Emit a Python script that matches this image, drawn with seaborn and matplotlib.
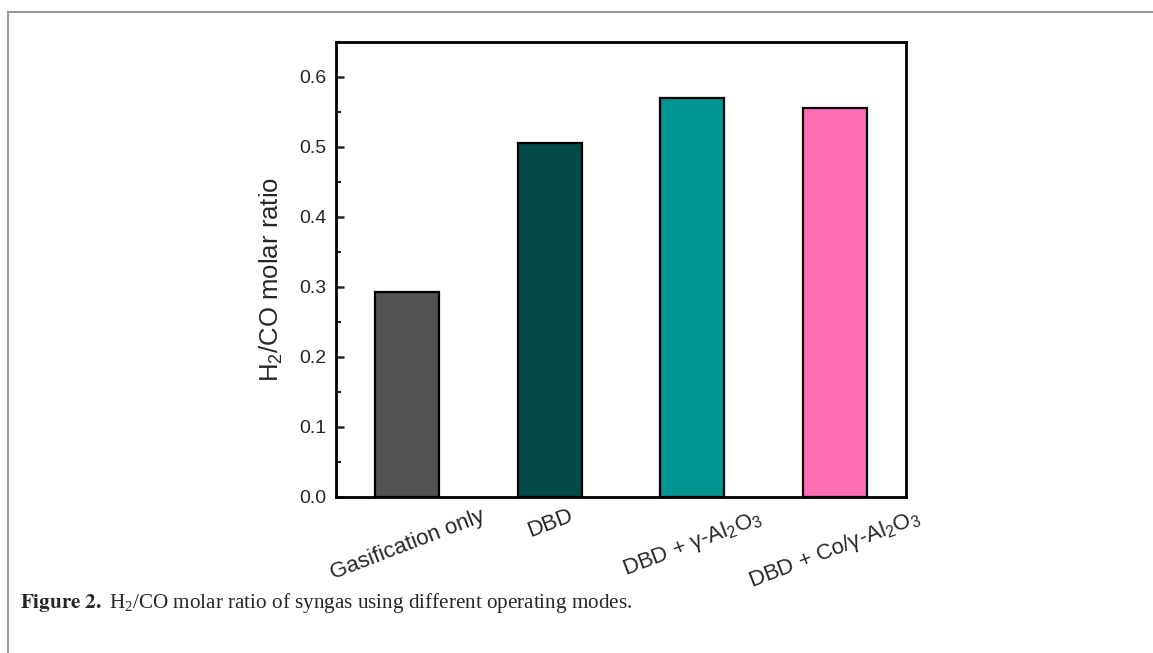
import pandas as pd
import matplotlib
matplotlib.use("Agg")
import matplotlib.pyplot as plt
from matplotlib.lines import Line2D
from matplotlib.ticker import MultipleLocator, FormatStrFormatter
import seaborn as sns

modes = ["Gasification only", "DBD",
         r"DBD + γ-Al$\mathregular{_2}$O$\mathregular{_3}$",
         r"DBD + Co/γ-Al$\mathregular{_2}$O$\mathregular{_3}$"]
ratio = [0.293, 0.505, 0.570, 0.556]
bar_colors = ["#525252", "#024b46", "#009590", "#ff6eb4"]

data = pd.DataFrame({"Mode": modes, "Ratio": ratio})

sns.set_style("white")
plt.rcParams["font.family"] = ["Liberation Sans", "DejaVu Sans"]
plt.rcParams["mathtext.fontset"] = "custom"
plt.rcParams["mathtext.rm"] = "Liberation Sans"

fig = plt.figure(figsize=(11.53, 6.53), dpi=100)
ax = fig.add_axes([0.2914, 0.2389, 0.4944, 0.6968])

sns.barplot(
    data=data,
    x="Mode",
    y="Ratio",
    hue="Mode",
    palette=bar_colors,
    saturation=1,
    edgecolor="black",
    linewidth=1.6,
    width=0.45,
    legend=False,
    ax=ax
)

ax.set_xlim(-0.5, 3.5)
ax.set_ylim(0, 0.65)
ax.yaxis.set_major_locator(MultipleLocator(0.1))
ax.yaxis.set_minor_locator(MultipleLocator(0.05))
ax.yaxis.set_major_formatter(FormatStrFormatter("%.1f"))
ax.tick_params(axis="y", which="major", direction="in", length=6, width=1.8,
               labelsize=14, pad=7, left=True)
ax.tick_params(axis="y", which="minor", direction="in", length=3.5, width=1.5, left=True)
ax.tick_params(axis="x", length=0, labelsize=16, pad=6)
for lbl in ax.get_xticklabels():
    lbl.set_rotation(21)
    lbl.set_ha("center")

for side in ["left", "right", "top", "bottom"]:
    ax.spines[side].set_visible(True)
    ax.spines[side].set_color("black")
    ax.spines[side].set_linewidth(2)

ax.set_xlabel("")
ax.set_ylabel(r"H$\mathregular{_2}$/CO molar ratio", fontsize=18.5, labelpad=10)
ax.yaxis.label.set_y(0.479)

# page frame (top and left rules) and caption
fig.add_artist(Line2D([8 / 1153, 1], [1 - 12 / 653, 1 - 12 / 653],
                      color="#999999", linewidth=1.5, transform=fig.transFigure))
fig.add_artist(Line2D([8 / 1153, 8 / 1153], [0, 1 - 12 / 653],
                      color="#999999", linewidth=1.5, transform=fig.transFigure))
fig.text(20 / 1153, 1 - 603 / 653,
         r"$\mathbf{Figure\ 2.}$ H$\mathregular{_2}$/CO molar ratio of syngas using different operating modes.",
         family=["Liberation Serif", "DejaVu Serif"], math_fontfamily="stix",
         fontsize=15.2, va="center", ha="left")

fig.savefig("out.png", dpi=100)
